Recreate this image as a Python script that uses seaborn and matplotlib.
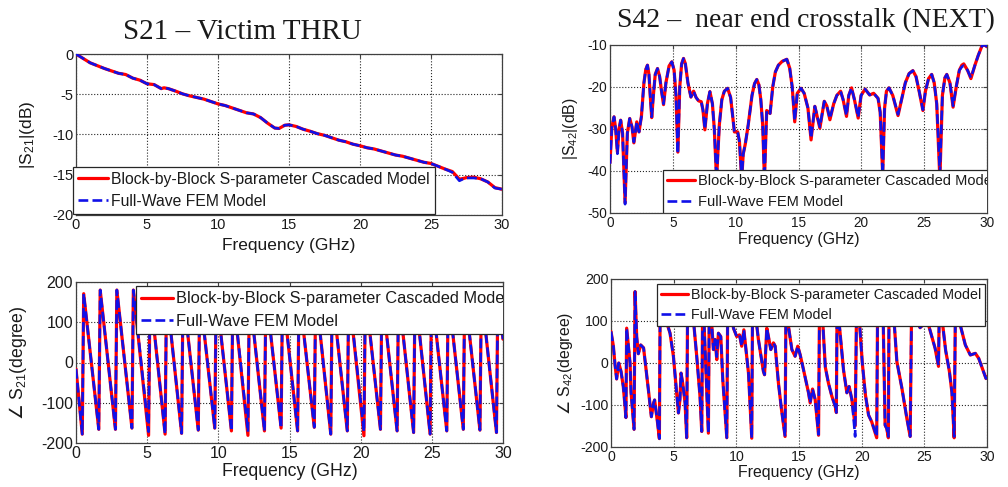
import matplotlib
matplotlib.use("Agg")
import matplotlib.pyplot as plt
import seaborn as sns

# ------------------------------------------------------------------ data
LABEL_CASCADE = "Block-by-Block S-parameter Cascaded Model"
LABEL_FEM = "Full-Wave FEM Model"

# |S21| (dB)
s21_mag_freq = [0, 1, 2, 3, 3.5, 4, 4.5, 5, 5.5, 6, 6.2, 6.5, 7, 7.5, 8, 9, 10, 10.5, 11, 11.5,
                12, 12.5, 13, 13.5, 14, 14.3, 14.7, 15, 15.5, 16, 16.5, 17, 17.5, 18, 18.5, 19, 19.5, 20, 20.5, 21,
                21.5, 22, 22.5, 23, 23.5, 24, 24.5, 25, 25.5, 26, 26.5, 27, 27.3, 27.5, 28, 28.5, 29, 29.5, 30]
s21_mag_fem = [0, -1.1, -1.8, -2.4, -2.55, -3.0, -3.25, -3.7, -3.8, -4.3, -4.2, -4.3, -4.6, -4.95, -5.2, -5.6, -6.2, -6.4, -6.7, -7.0,
               -7.3, -7.45, -7.9, -8.6, -9.2, -9.25, -8.85, -8.8, -9.0, -9.35, -9.6, -9.9, -10.1, -10.4, -10.7, -10.9, -11.2, -11.4, -11.65, -11.8,
               -12.05, -12.3, -12.55, -12.7, -12.95, -13.2, -13.45, -13.6, -13.95, -14.3, -14.7, -15.75, -15.5, -15.4, -15.4, -15.5, -15.9, -16.65, -16.8]
s21_mag_cascade = [0, -1.1, -1.8, -2.4, -2.55, -3.0, -3.25, -3.7, -3.8, -4.3, -4.2, -4.3, -4.6, -4.95, -5.2, -5.6, -6.2, -6.4, -6.7, -7.0,
                   -7.3, -7.45, -7.9, -8.6, -9.2, -9.25, -8.85, -8.8, -9.0, -9.35, -9.6, -9.9, -10.1, -10.4, -10.7, -10.9, -11.2, -11.4, -11.65, -11.8,
                   -12.05, -12.3, -12.55, -12.7, -12.95, -13.2, -13.45, -13.6, -13.95, -14.3, -14.6, -15.55, -15.45, -15.35, -15.3, -15.5, -15.9, -16.6, -16.8]

# angle S21 (degree)
s21_ph_freq = [0, 0.44, 0.54, 1.60, 1.70, 2.77, 2.87, 3.93, 4.03, 5.10, 5.20, 6.26, 6.36, 7.42, 7.52,
               8.59, 8.69, 9.75, 9.85, 10.92, 11.02, 12.08, 12.18, 13.24, 13.34, 14.41, 14.51, 15.57, 15.67,
               16.74, 16.84, 17.90, 18.00, 19.06, 19.16, 20.23, 20.33, 21.39, 21.49, 22.56, 22.66, 23.72, 23.82,
               24.88, 24.98, 26.05, 26.15, 27.21, 27.31, 28.38, 28.48, 29.54, 29.64, 30]
s21_ph_fem = [-16, -178, 171, -166, 180, -166, 180, -163, 180, -172, 178, -178, 176, -176, 178,
              -168, 175, -163, 177, -170, 178, -172, 175, -170, 178, -163, 176, -170, 177,
              -161, 178, -178, 175, -170, 178, -172, 176, -166, 178, -170, 175, -174, 177,
              -178, 178, -170, 176, -166, 178, -168, 175, -174, 176, 58]
s21_ph_cascade = [-16, -178, 171, -166, 180, -166, 180, -163, 180, -181, 178, -178, 176, -176, 178,
                  -168, 175, -163, 177, -170, 178, -181, 175, -170, 178, -163, 176, -170, 177,
                  -161, 178, -178, 175, -170, 178, -182, 176, -166, 178, -170, 175, -174, 177,
                  -178, 178, -170, 176, -166, 178, -168, 175, -174, 176, 58]

# |S42| (dB)
s42_mag_freq = [0, 0.15, 0.32, 0.45, 0.59, 0.72, 0.85, 1.0, 1.2, 1.38, 1.57, 1.75, 1.9, 2.13, 2.31, 2.5, 2.7, 2.85, 2.98, 3.1,
                3.2, 3.32, 3.45, 3.6, 3.78, 3.95, 4.1, 4.26, 4.45, 4.7, 4.92, 5.1, 5.25, 5.4, 5.55, 5.7, 5.85, 6.0, 6.2, 6.44,
                6.65, 6.85, 7.05, 7.26, 7.4, 7.55, 7.75, 7.95, 8.15, 8.3, 8.48, 8.7, 8.9, 9.1, 9.36, 9.6, 9.9, 10.16, 10.3, 10.48,
                10.6, 10.77, 11.0, 11.3, 11.5, 11.68, 11.85, 12.0, 12.15, 12.29, 12.47, 12.74, 12.95, 13.16, 13.4, 13.7, 14.07, 14.3, 14.5, 14.7,
                14.9, 15.2, 15.45, 15.75, 16.0, 16.3, 16.7, 17.05, 17.25, 17.5, 17.8, 18.05, 18.35, 18.55, 18.82, 19.0, 19.22, 19.45, 19.75, 19.98,
                20.3, 20.66, 20.98, 21.33, 21.5, 21.7, 21.85, 22.0, 22.2, 22.5, 22.92, 23.2, 23.5, 23.8, 24.1, 24.35, 24.6, 24.9, 25.1, 25.35,
                25.6, 25.8, 26.0, 26.25, 26.45, 26.65, 26.8, 27.05, 27.3, 27.55, 27.8, 28.0, 28.15, 28.45, 28.72, 29.04, 29.3, 29.6, 29.8, 30]
s42_mag_fem = [-38.3, -29.5, -27.1, -30, -35.9, -30, -27.9, -31, -47.9, -31, -27.5, -29.5, -33.1, -28.3, -30.7, -27, -19, -15.8, -14.8, -17,
               -22, -27.1, -22, -17, -15.6, -17.5, -21, -24.0, -19, -15, -14.0, -16, -22, -35.9, -20, -14.5, -13.2, -14.5, -19, -22.4,
               -21.0, -22.5, -23.3, -23.5, -25.5, -30.0, -24, -21.1, -24, -30, -42, -29, -23, -21, -20.3, -22.5, -30.7, -30.7, -33, -42,
               -36, -33.5, -29, -22, -19.2, -18.2, -19.5, -23, -29, -42, -25.6, -26.3, -20, -16.4, -14.8, -13.9, -13.4, -15.5, -20, -28,
               -21.5, -20.3, -21.5, -25, -32.2, -24.6, -29.5, -23.4, -24.5, -27.5, -24, -22, -21, -23, -26.8, -22, -20.2, -23, -27.2, -22,
               -20.5, -21.9, -21.5, -22.7, -26, -41, -25, -21, -20.2, -22, -26.5, -23, -19, -16.8, -16.1, -17.5, -21, -25.4, -21, -18,
               -17.0, -19, -24, -40.5, -22, -17.8, -17.0, -19, -24.5, -20, -16, -15.2, -14.9, -16, -17.8, -14.8, -12.5, -10.2, -10.0, -10.4]
s42_mag_cascade = [-38.0, -29.5, -27.1, -30, -35.5, -30, -27.9, -31, -47.5, -31, -27.5, -29.5, -33.3, -28.3, -30.7, -27, -19, -15.8, -14.8, -17,
                   -22, -27.3, -22, -17, -15.6, -17.5, -21, -24.2, -19, -15, -14.0, -16, -22, -35.5, -20, -14.5, -13.2, -14.5, -19, -22.4,
                   -21.0, -22.5, -23.3, -23.5, -25.5, -30.2, -24, -21.1, -24, -30, -42, -29, -23, -21, -20.3, -22.5, -30.7, -30.7, -33, -42,
                   -36, -33.5, -29, -22, -19.2, -18.2, -19.5, -23, -29, -42, -25.6, -26.3, -20, -16.4, -14.8, -13.9, -13.4, -15.5, -20, -28.3,
                   -21.5, -20.3, -21.5, -25, -32.6, -24.6, -29.8, -23.4, -24.5, -27.8, -24, -22, -21, -23, -27.0, -22, -20.2, -23, -27.4, -22,
                   -20.5, -21.9, -21.5, -22.7, -26, -41, -25, -21, -20.2, -22, -26.8, -23, -19, -16.8, -16.1, -17.5, -21, -25.6, -21, -18,
                   -17.0, -19, -24, -42, -22, -17.8, -17.0, -19, -24.8, -20, -16, -14.8, -14.5, -16, -18.0, -14.8, -12.5, -10.2, -10.0, -10.4]

# angle S42 (degree)
s42_ph_freq = [0, 0.19, 0.32, 0.45, 0.62, 0.8, 0.98, 1.12, 1.19, 1.25, 1.52, 1.6, 1.84, 1.92, 2.05, 2.18, 2.37, 2.6, 2.77, 2.98,
               3.22, 3.4, 3.48, 3.6, 3.7, 3.86, 3.93, 4.44, 4.71, 4.98, 5.24, 5.38, 5.5, 5.59, 5.72, 5.91, 6.04, 6.12, 6.6, 6.84,
               7.1, 7.24, 7.32, 7.5, 7.77, 7.85, 8.17, 8.3, 8.44, 8.57, 8.76, 8.92, 9.24, 9.32, 9.77, 10.03, 10.25, 10.43, 10.6, 10.97,
               11.23, 11.3, 11.76, 12.16, 12.25, 12.43, 12.56, 12.75, 12.96, 13.1, 13.36, 13.6, 13.89, 13.97, 14.16, 14.43, 14.69, 14.9, 15.09, 15.36,
               15.76, 15.89, 16.08, 16.29, 16.56, 16.64, 16.9, 17.1, 17.35, 17.62, 17.89, 17.98, 18.04, 18.23, 18.55, 18.82, 19.0, 19.22, 19.48, 19.6,
               19.85, 20.05, 20.3, 20.55, 20.8, 21.2, 21.28, 21.7, 21.87, 22.0, 22.13, 22.19, 22.54, 22.81, 23.21, 23.6, 23.87, 24.0, 24.4, 24.66,
               24.8, 24.93, 25.2, 25.6, 25.86, 26.13, 26.2, 26.45, 26.7, 27.0, 27.2, 27.38, 27.48, 27.87, 28.27, 28.67, 29.07, 29.34, 29.92, 30]
s42_ph_fem = [75, 40, -4, -38, 0, -20, -56, -103, -130, 83, 0, -70, -158, 170, 63, 22, 43, 36, -8, -63,
              -128, -95, -88, -115, -139, -180, 178, 97, 71, 16, -71, -119, -87, -24, -48, -95, -178, 175, 95, 16,
              -79, -163, 175, 40, -167, 175, 32, 56, 15, 71, 63, -40, -178, 175, 83, 63, 67, 40, 79, -24,
              -179, 175, 56, -20, -28, 83, 63, 32, 48, 40, -48, -110, -175, 175, 87, 32, 16, 40, 20, -16,
              -71, -95, -62, -87, -170, 150, 95, -10, -48, -79, -103, -118, 140, 87, -16, -71, -56, -87, -175, 150,
              87, 0, -76, -124, -140, -175, 175, 130, -148, -156, -175, 175, 120, 3, -60, -131, -175, 175, 100, 84,
              88, 95, 105, 63, 35, -5, 140, 95, 30, -20, -70, -175, 130, 90, 43, 19, 23, 11, -37, -32]
s42_ph_cascade = [75, 40, -4, -38, 0, -20, -56, -103, -130, 83, 0, -70, -158, 170, 63, 22, 43, 36, -8, -63,
                  -128, -95, -88, -115, -139, -180, 178, 97, 71, 16, -71, -119, -87, -24, -48, -95, -178, 175, 95, 16,
                  -79, -163, 175, 40, -167, 175, 32, 56, 8, 71, 63, -40, -178, 175, 83, 63, 67, 40, 79, -24,
                  -179, 175, 56, -20, -28, 83, 63, 32, 48, 40, -48, -110, -175, 175, 87, 32, 16, 40, 20, -16,
                  -71, -95, -62, -87, -172, 150, 95, -10, -48, -79, -103, -118, 140, 87, -16, -71, -56, -87, -150, 150,
                  87, 0, -76, -124, -140, -178, 175, 130, -148, -156, -178, 175, 120, 3, -60, -131, -175, 175, 100, 84,
                  88, 95, 105, 63, 35, -8, 140, 95, 30, -20, -70, -178, 130, 90, 43, 19, 23, 11, -37, -32]

# ------------------------------------------------------------------ style
sns.set_style("white")
plt.rcParams["font.family"] = ["Liberation Sans", "DejaVu Sans"]
plt.rcParams["mathtext.default"] = "regular"
plt.rcParams["mathtext.fontset"] = "dejavusans"
plt.rcParams["axes.unicode_minus"] = False

RED = "#ff0000"
BLUE = "#1010e8"
W, H = 1008, 487


def px_axes(left, top, right, bottom):
    return [left / W, 1 - bottom / H, (right - left) / W, (bottom - top) / H]


fig = plt.figure(figsize=(W / 100, H / 100), dpi=100, facecolor="white")

panels = [
    dict(rect=px_axes(76, 54, 502, 215), f1=s21_mag_freq, y1=s21_mag_cascade, f2=s21_mag_freq, y2=s21_mag_fem,
         ylim=(-20, 0), yticks=[-20, -15, -10, -5, 0], ylabel="|S$_{21}$|(dB)", tick_fs=10.5, lab_fs=12.5,
         ylab_x=-0.113, xlab_y=-0.19, leg_fs=11.3, leg_loc="lower left", leg_anchor=(-0.007, 0.006), clip=False,
         ls=0.45, bp=0.33),
    dict(rect=px_axes(610, 45, 987, 213), f1=s42_mag_freq, y1=s42_mag_cascade, f2=s42_mag_freq, y2=s42_mag_fem,
         ylim=(-50, -10), yticks=[-50, -40, -30, -20, -10], ylabel="|S$_{42}$|(dB)", tick_fs=9.8, lab_fs=11.4,
         ylab_x=-0.106, xlab_y=-0.16, leg_fs=10.5, leg_loc="lower left", leg_anchor=(0.1406, 0.0), clip=True,
         ls=0.44, bp=0.29),
    dict(rect=px_axes(76, 282, 503, 443), f1=s21_ph_freq, y1=s21_ph_cascade, f2=s21_ph_freq, y2=s21_ph_fem,
         ylim=(-200, 200), yticks=[-200, -100, 0, 100, 200], ylabel=r"$\mathrm{\angle}$ S$_{21}$(degree)",
         tick_fs=11.5, lab_fs=12.7,
         ylab_x=-0.136, xlab_y=-0.18, leg_fs=11.8, leg_loc="upper left", leg_anchor=(0.1405, 0.975), clip=True,
         ls=0.45, bp=0.33),
    dict(rect=px_axes(611, 279, 987, 447), f1=s42_ph_freq, y1=s42_ph_cascade, f2=s42_ph_freq, y2=s42_ph_fem,
         ylim=(-200, 200), yticks=[-200, -100, 0, 100, 200], ylabel=r"$\mathrm{\angle}$ S$_{42}$(degree)",
         tick_fs=10.2, lab_fs=11.4,
         ylab_x=-0.122, xlab_y=-0.15, leg_fs=10.3, leg_loc="upper left", leg_anchor=(0.122, 0.97), clip=True,
         ls=0.42, bp=0.29),
]

for p in panels:
    ax = fig.add_axes(p["rect"])
    sns.lineplot(x=p["f1"], y=p["y1"], ax=ax, color=RED, linewidth=2.3, sort=False,
                 estimator=None, label=LABEL_CASCADE, zorder=3)
    sns.lineplot(x=p["f2"], y=p["y2"], ax=ax, color=BLUE, linewidth=1.9, linestyle="--", sort=False,
                 estimator=None, label=LABEL_FEM, zorder=4)
    ax.set_xlim(0, 30)
    ax.set_ylim(*p["ylim"])
    ax.set_xticks([0, 5, 10, 15, 20, 25, 30])
    ax.set_yticks(p["yticks"])
    ax.grid(True, linestyle=":", color="0.15", linewidth=0.8)
    ax.set_axisbelow(True)
    for s in ax.spines.values():
        s.set_color("0.25")
        s.set_linewidth(0.9)
    ax.tick_params(direction="in", top=True, right=True, length=3, width=0.8, color="0.25",
                   labelsize=p["tick_fs"], pad=2, labelcolor="0.1")
    ax.set_xlabel("Frequency (GHz)", fontsize=p["lab_fs"], color="0.1", va="center")
    ax.set_ylabel(p["ylabel"], fontsize=p["lab_fs"], color="0.1", va="center")
    ax.xaxis.set_label_coords(0.5, p["xlab_y"])
    ax.yaxis.set_label_coords(p["ylab_x"], 0.5)

    leg = ax.legend(loc=p["leg_loc"], bbox_to_anchor=p["leg_anchor"], borderaxespad=0,
                    fontsize=p["leg_fs"], frameon=True, fancybox=False, framealpha=1,
                    edgecolor="0.15", facecolor="white", handlelength=1.9, handletextpad=0.2,
                    labelspacing=p["ls"], borderpad=p["bp"])
    leg.get_frame().set_linewidth(0.9)
    for t in leg.get_texts():
        t.set_color("0.1")
    if p["clip"]:
        for art in [leg.get_frame(), *leg.get_texts(), *leg.get_lines()]:
            art.set_clip_box(ax.bbox)
            art.set_clip_on(True)

fig.text(242 / W, 1 - 32 / H, "S21 – Victim THRU", family="Liberation Serif", fontsize=21,
         ha="center", va="center", color="0.1")
fig.text(806 / W, 1 - 21 / H, "S42 –  near end crosstalk (NEXT)", family="Liberation Serif", fontsize=20,
         ha="center", va="center", color="0.1")

fig.savefig("out.png", dpi=100, facecolor="white")
